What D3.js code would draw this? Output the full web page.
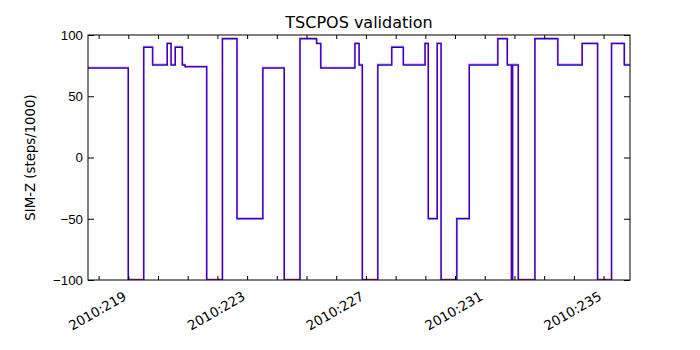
<!DOCTYPE html>
<html>
<head>
<meta charset="utf-8">
<script src="https://cdn.jsdelivr.net/npm/d3@7"></script>
<style>
  body { margin: 0; background: #fff; }
  svg { font-family: "DejaVu Sans", sans-serif; }
  .axis path { display: none; }
  .axis line { stroke: #000; }
  .axis text { fill: #000; font-size: 13.3px; }
</style>
</head>
<body>
<div id="chart"></div>
<script>
// step start times (day of year 2010) and SIM-Z values (steps/1000)
var stepDays = [217.64, 219.00, 219.52, 219.82, 220.31, 220.44, 220.58, 220.82, 220.91,
  221.64, 222.17, 222.66, 223.53, 224.25, 224.78, 225.34, 225.48, 226.63, 226.77,
  226.88, 227.40, 227.87, 228.26, 228.99, 229.10, 229.40, 229.53, 230.06, 230.48,
  231.44, 231.76, 231.90, 231.94, 232.13, 232.69, 233.46, 234.28, 234.80, 235.27,
  235.70, 235.89];
var predValues = [73, -100, 90, 75.5, 93, 75.5, 90, 75.5, 74,
  -100, 97, -50, 73, -100, 97, 93, 73, 93, 75.5,
  -100, 75.5, 90, 75.5, 93, -50, 93, -100, -50, 75.5,
  97, 75.5, -100, 75.5, -100, 97, 75.5, 93, -100, 93,
  75.5, 75.5];
// telemetry follows the prediction almost exactly
var tlmDays = stepDays;
var tlmValues = predValues;

var yTicks = [-100, -50, 0, 50, 100];
var dayTicks = d3.range(218, 236);
var labelDays = [219, 223, 227, 231, 235];

var margin = { top: 35, right: 70, bottom: 70, left: 88 },
  width = 700,
  height = 350,
  innerWidth = width - margin.left - margin.right,
  innerHeight = height - margin.top - margin.bottom;

var svg = d3.select("#chart").append("svg")
  .attr("width", width)
  .attr("height", height);

var g = svg.append("g")
  .attr("transform", "translate(" + margin.left + "," + margin.top + ")");

var x = d3.scaleLinear().domain([217.643, 235.89]).range([0, innerWidth]);
var y = d3.scaleLinear().domain([-100, 100]).range([innerHeight, 0]);

function pts(days, vals) {
  return days.map(function(d, i) { return [d, vals[i]]; });
}

var line = d3.line()
  .x(function(d) { return x(d[0]); })
  .y(function(d) { return y(d[1]); })
  .curve(d3.curveStepAfter);

g.append("defs").append("clipPath").attr("id", "clip")
  .append("rect").attr("width", innerWidth).attr("height", innerHeight + 2).attr("y", -2);

var lines = g.append("g").attr("clip-path", "url(#clip)");

// prediction underneath, telemetry on top with some transparency
lines.append("path")
  .attr("d", line(pts(stepDays, predValues)))
  .attr("fill", "none")
  .attr("stroke", "#0000ff")
  .attr("stroke-width", 1.5);

lines.append("path")
  .attr("d", line(pts(tlmDays, tlmValues)))
  .attr("fill", "none")
  .attr("stroke", "#ff0000")
  .attr("stroke-opacity", 0.3)
  .attr("stroke-width", 1.5)
  .attr("transform", "translate(-0.4,-0.9)");

// axes, ticks pointing inward
function noText(sel) { sel.selectAll("text").remove(); }

g.append("g").attr("class", "axis")
  .attr("transform", "translate(0," + innerHeight + ")")
  .call(d3.axisBottom(x).tickValues(dayTicks).tickSize(-4))
  .call(noText);

g.append("g").attr("class", "axis")
  .call(d3.axisTop(x).tickValues(dayTicks).tickSize(-4))
  .call(noText);

g.append("g").attr("class", "axis")
  .call(d3.axisLeft(y).tickValues(yTicks).tickSize(-6))
  .selectAll("text").attr("x", -5);

g.append("g").attr("class", "axis")
  .attr("transform", "translate(" + innerWidth + ",0)")
  .call(d3.axisRight(y).tickValues(yTicks).tickSize(-6))
  .call(noText);

g.selectAll(".dayLabel")
  .data(labelDays)
  .enter().append("text")
  .attr("class", "dayLabel")
  .attr("transform", function(d) {
    return "translate(" + (x(d) - 1) + "," + (innerHeight + 19) + ")rotate(-30)";
  })
  .attr("text-anchor", "end")
  .style("font-size", "13.3px")
  .text(function(d) { return "2010:" + d; });

g.append("rect")
  .attr("width", innerWidth)
  .attr("height", innerHeight)
  .attr("fill", "none")
  .attr("stroke", "#000")
  .attr("stroke-width", 1);

svg.append("text")
  .attr("x", margin.left + innerWidth / 2)
  .attr("y", 28)
  .attr("text-anchor", "middle")
  .style("font-size", "16px")
  .text("TSCPOS validation");

svg.append("text")
  .attr("transform", "translate(35," + (margin.top + innerHeight / 2) + ")rotate(-90)")
  .attr("text-anchor", "middle")
  .style("font-size", "13.3px")
  .text("SIM-Z (steps/1000)");
</script>
</body>
</html>
